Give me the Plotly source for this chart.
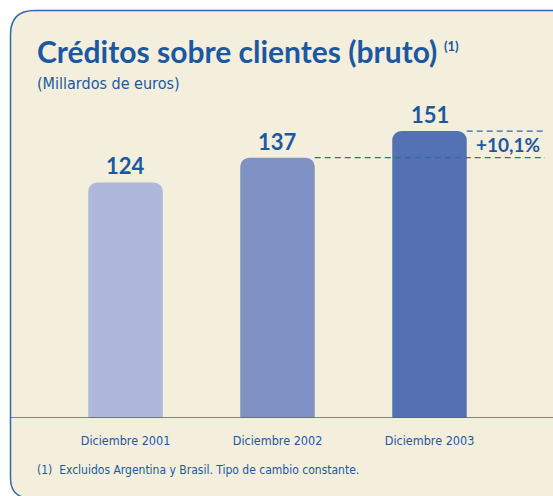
import plotly.graph_objects as go

categories = ["Diciembre 2001", "Diciembre 2002", "Diciembre 2003"]
values = [124, 137, 151]
value_labels = ["124", "137", "151"]
growth_label = "+10,1%"
title = "Créditos sobre clientes (bruto)"
title_note = "(1)"
subtitle = "(Millardos de euros)"
footnote = "(1)  Excluidos Argentina y Brasil. Tipo de cambio constante."

W, H = 553, 496
BLUE = "#1c58a2"
LINE = "#2e68b0"
BG = "#f3efdc"
bar_colors = ["#aeb8da", "#8091c3", "#5472b3"]
NARROW = "DejaVu Sans Condensed, sans-serif"
BOLD = "Lato, Open Sans, sans-serif"

def px(x):
    return x / W

def py(y):
    return 1 - y / H

fig = go.Figure()
xs = list(range(len(categories)))
fig.add_trace(go.Bar(x=xs, y=values, width=0.49, marker=dict(color=bar_colors, line=dict(width=0)),
                     hoverinfo="skip"))

base_y = 418
top_y = 100
fig.update_layout(
    width=W, height=H, margin=dict(l=0, r=0, t=0, b=0),
    paper_bgcolor="white", plot_bgcolor="rgba(0,0,0,0)",
    showlegend=False, barcornerradius=9,
    xaxis=dict(domain=[0, 1], range=[-125.5 / 152, (W - 125.5) / 152],
               tickvals=xs, ticktext=categories, showgrid=False, zeroline=False,
               showline=False, ticks="outside", ticklen=11, tickcolor="rgba(0,0,0,0)",
               tickfont=dict(family=NARROW, size=12.5, color=BLUE), fixedrange=True),
    yaxis=dict(domain=[py(base_y), py(top_y)], range=[0, (base_y - top_y) / 1.9],
               visible=False, fixedrange=True),
)

r = 24
r2 = 20
L, T, B, R = 10.5, 10.5, 498, 570
path = (f"M {px(L)},{py(T + r)} Q {px(L)},{py(T)} {px(L + r)},{py(T)} "
        f"L {px(R)},{py(T)} L {px(R)},{py(B)} L {px(L + r2)},{py(B)} "
        f"Q {px(L)},{py(B)} {px(L)},{py(B - r2)} Z")
fig.add_shape(type="path", path=path, xref="paper", yref="paper",
              fillcolor=BG, line=dict(color=LINE, width=1.5), layer="below")

# baseline
fig.add_shape(type="line", xref="paper", yref="y", x0=px(L), x1=1, y0=0, y1=0,
              line=dict(color=LINE, width=1.5))

# dashed reference lines
x_end = (545 - 125.5) / 152
for i in (1, 2):
    fig.add_shape(type="line", xref="x", yref="y", x0=i + 0.245, x1=x_end,
                  y0=values[i], y1=values[i], line=dict(color=LINE, width=1.3, dash="6px,4px"))

for i, v in enumerate(values):
    fig.add_annotation(x=i, y=v, text=f"<b>{value_labels[i]}</b>", showarrow=False,
                       xanchor="center", yanchor="bottom", yshift=1,
                       font=dict(family=BOLD, size=22, color=BLUE))

fig.add_annotation(x=px(508), xref="paper", y=(values[1] + values[2]) / 2, yref="y",
                   xanchor="center", yanchor="middle",
                   text=f"<b>{growth_label}</b>", showarrow=False,
                   font=dict(family=BOLD, size=19, color=BLUE))

fig.add_annotation(x=px(35), y=py(51), xref="paper", yref="paper", xanchor="left", yanchor="middle",
                   text=f"<b>{title}</b>", showarrow=False,
                   font=dict(family=BOLD, size=30, color=BLUE))
fig.add_annotation(x=px(442), y=py(46), xref="paper", yref="paper", xanchor="left", yanchor="middle",
                   text=f"<b>{title_note}</b>", showarrow=False,
                   font=dict(family=BOLD, size=13, color=BLUE))
fig.add_annotation(x=px(35), y=py(83), xref="paper", yref="paper", xanchor="left", yanchor="middle",
                   text=subtitle, showarrow=False,
                   font=dict(family=NARROW, size=16, color=BLUE))
fig.add_annotation(x=px(35), y=py(470), xref="paper", yref="paper", xanchor="left", yanchor="middle",
                   text=footnote, showarrow=False,
                   font=dict(family=NARROW, size=12, color=BLUE))

fig.write_html("out.html", config={"displayModeBar": False},
               post_script="document.body.style.margin='0';")
